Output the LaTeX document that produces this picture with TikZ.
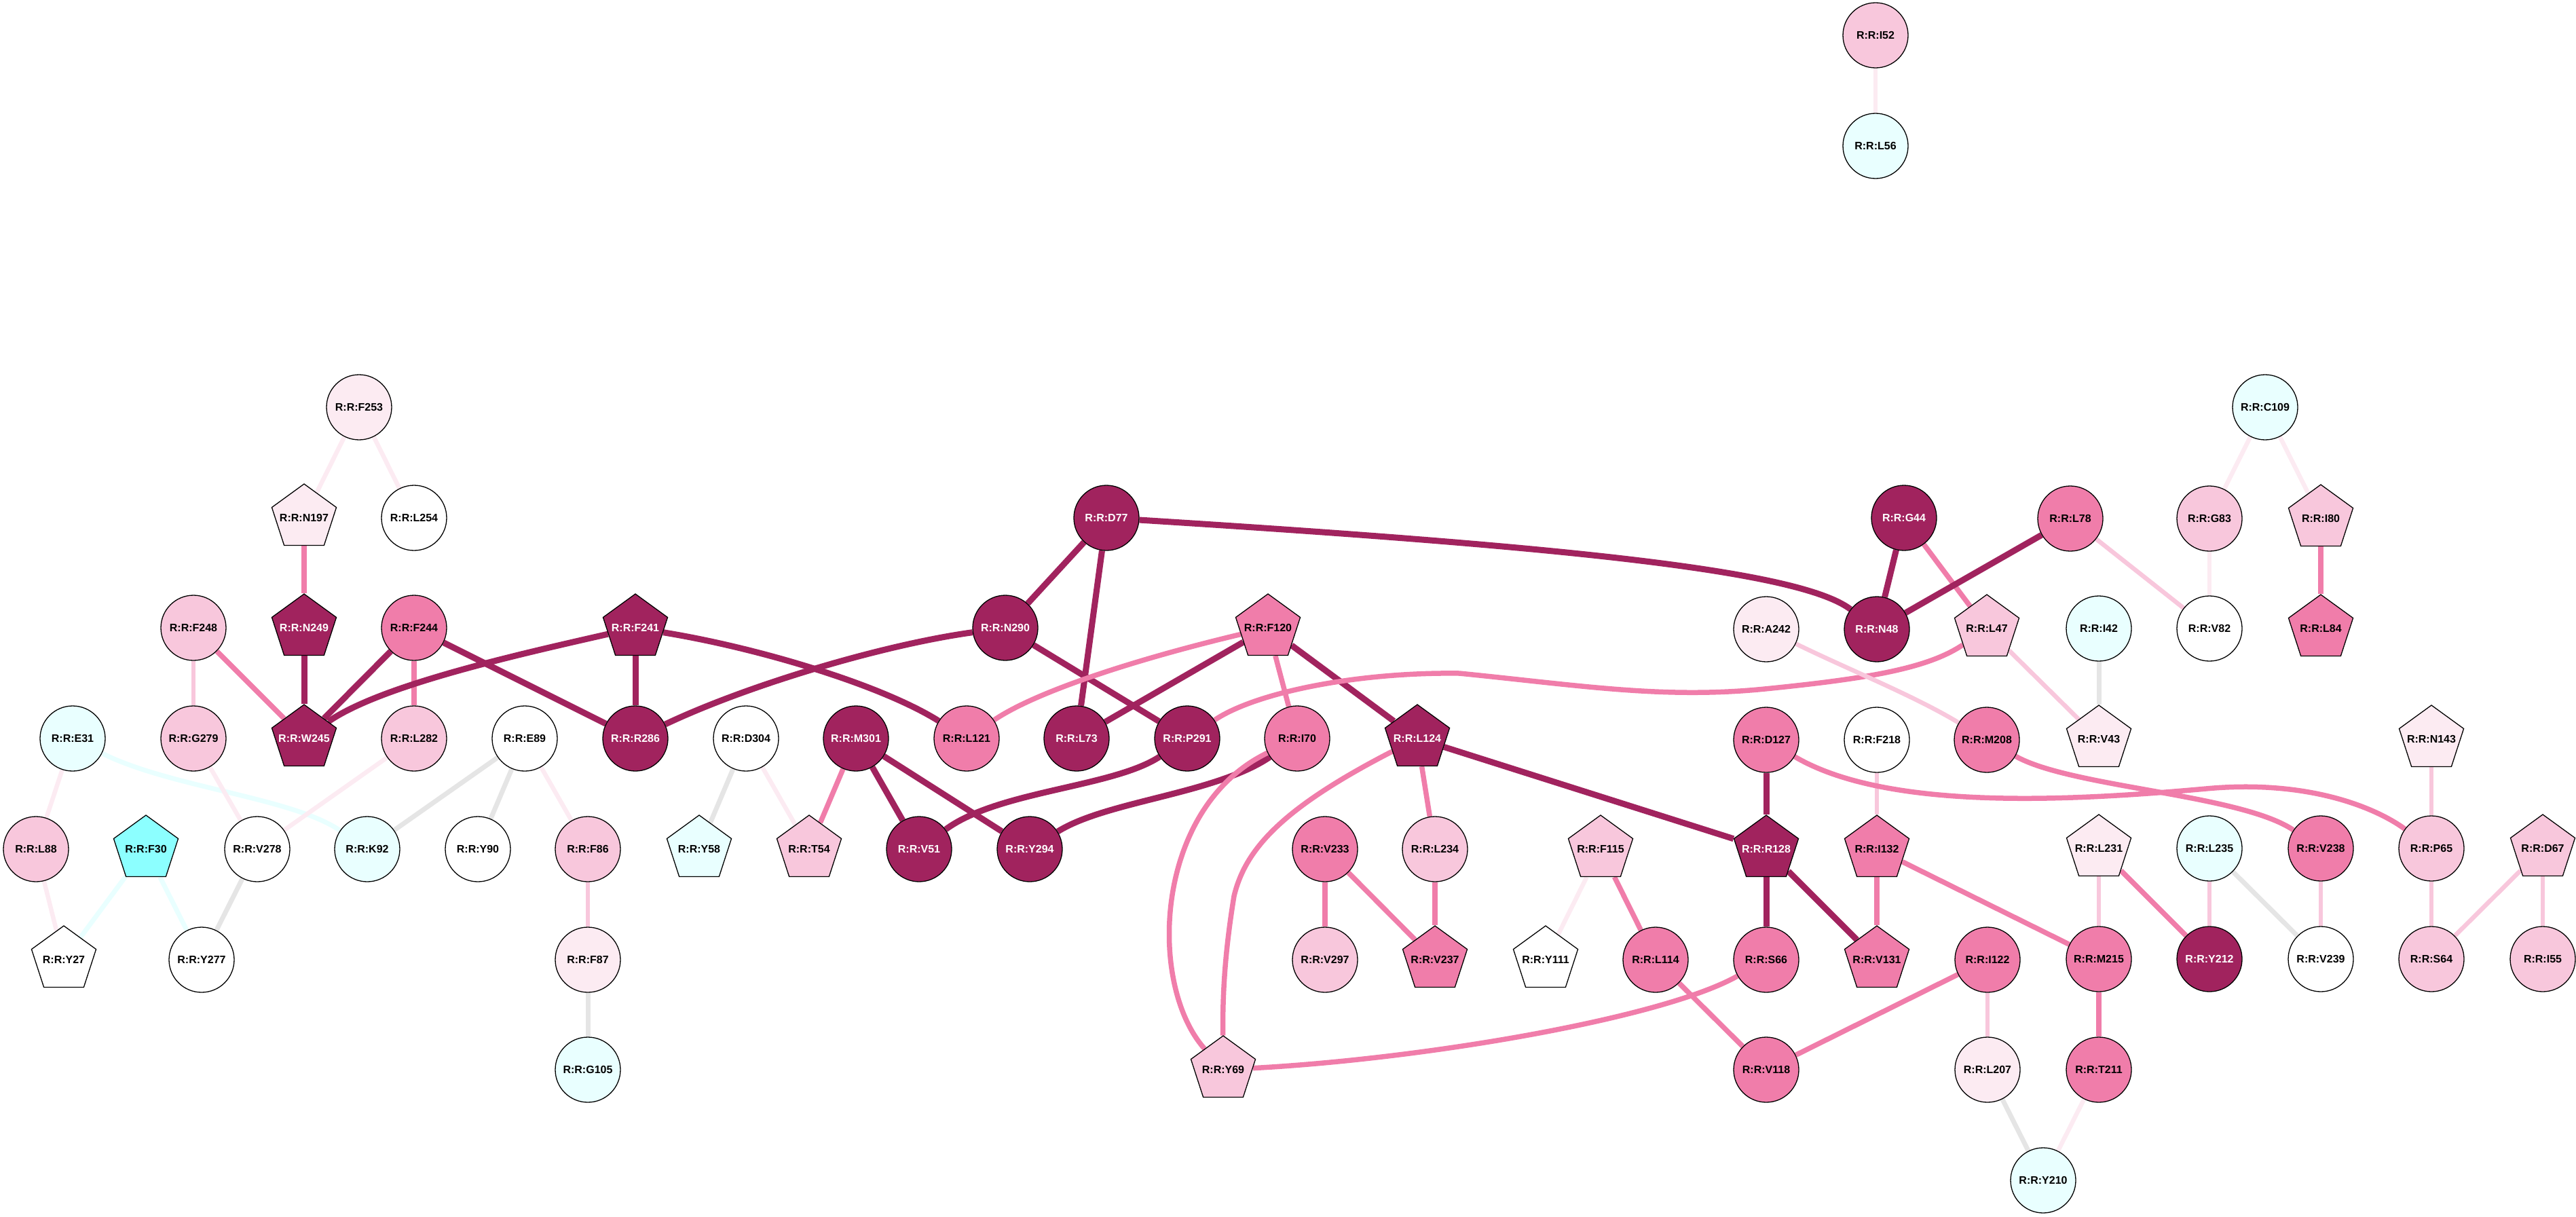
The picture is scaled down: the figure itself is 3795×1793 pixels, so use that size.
\documentclass[tikz,border=0pt]{standalone}
\usepackage{fontspec}
\setmainfont{Liberation Sans}
\usetikzlibrary{shapes.geometric,backgrounds}
\definecolor{cdark}{RGB}{161,35,94}
\definecolor{cmed}{RGB}{240,125,170}
\definecolor{clight}{RGB}{248,199,220}
\definecolor{cvlight}{RGB}{252,235,242}
\definecolor{ccyanl}{RGB}{233,255,255}
\definecolor{ccyan}{RGB}{140,255,255}
\definecolor{egrey}{RGB}{229,229,229}
\newcommand{\lab}{\bfseries\fontsize{16}{18}\selectfont}
\newcommand{\zb}[1]{\makebox[0pt]{#1}}
\tikzset{
  nd/.style={circle, draw=black, line width=1.3pt, minimum size=96pt, inner sep=0pt, font=\lab},
  pg/.style={regular polygon, regular polygon sides=5, draw=black, line width=1.3pt, minimum size=100pt, inner sep=0pt, font=\lab},
  cD/.style={fill=cdark, text=white},
  cM/.style={fill=cmed},
  cL/.style={fill=clight},
  cV/.style={fill=cvlight},
  cW/.style={fill=white},
  cC/.style={fill=ccyanl},
  cY/.style={fill=ccyan},
  eD/.style={draw=cdark, line width=9pt},
  eM/.style={draw=cmed, line width=7.5pt},
  eL/.style={draw=clight, line width=6.5pt},
  eV/.style={draw=cvlight, line width=6.5pt},
  eG/.style={draw=egrey, line width=7pt},
  eC/.style={draw=ccyanl, line width=7pt}
}
\begin{document}
\begin{tikzpicture}[x=1pt,y=-1pt]
\useasboundingbox (0,0) rectangle (3795,1793);
% row 52 / 215
\node[nd,cL] (I52) at (2763,52) {R:R:I52};
\node[nd,cC] (L56) at (2763,215) {R:R:L56};
% row 600
\node[nd,cV] (F253) at (529,600) {R:R:F253};
\node[nd,cC] (C109) at (3337,600) {R:R:C109};
% row 763
\node[pg,cV] (N197) at (448,763) {\zb{R:R:N197}};
\node[nd,cW] (L254) at (610,763) {R:R:L254};
\node[nd,cD] (D77) at (1630,763) {R:R:D77};
\node[nd,cD] (G44) at (2805,763) {R:R:G44};
\node[nd,cM] (L78) at (3050,764) {R:R:L78};
\node[nd,cL] (G83) at (3255,764) {R:R:G83};
\node[pg,cL] (I80) at (3419,764) {\zb{R:R:I80}};
% row 925
\node[nd,cL] (F248) at (285,925) {R:R:F248};
\node[pg,cD] (N249) at (448,925) {\zb{R:R:N249}};
\node[nd,cM] (F244) at (610,925) {R:R:F244};
\node[pg,cD] (F241) at (936,925) {\zb{R:R:F241}};
\node[nd,cD] (N290) at (1481,925) {R:R:N290};
\node[pg,cM] (F120) at (1868,925) {\zb{R:R:F120}};
\node[nd,cV] (A242) at (2602,927) {R:R:A242};
\node[nd,cD] (N48) at (2765,927) {R:R:N48};
\node[pg,cL] (L47) at (2927,926) {\zb{R:R:L47}};
\node[nd,cC] (I42) at (3092,926) {R:R:I42};
\node[nd,cW] (V82) at (3255,926) {R:R:V82};
\node[pg,cM] (L84) at (3419,926) {\zb{R:R:L84}};
% row 1088
\node[nd,cC] (E31) at (107,1088) {R:R:E31};
\node[nd,cL] (G279) at (285,1088) {R:R:G279};
\node[pg,cD] (W245) at (448,1088) {\zb{R:R:W245}};
\node[nd,cL] (L282) at (610,1088) {R:R:L282};
\node[nd,cW] (E89) at (773,1088) {R:R:E89};
\node[nd,cD] (R286) at (936,1088) {R:R:R286};
\node[nd,cW] (D304) at (1099,1088) {R:R:D304};
\node[nd,cD] (M301) at (1261,1088) {R:R:M301};
\node[nd,cM] (L121) at (1424,1088) {R:R:L121};
\node[nd,cD] (L73) at (1586,1088) {R:R:L73};
\node[nd,cD] (P291) at (1749,1088) {R:R:P291};
\node[nd,cM] (I70) at (1911,1088) {R:R:I70};
\node[pg,cD] (L124) at (2088,1088) {\zb{R:R:L124}};
\node[nd,cM] (D127) at (2602,1090) {R:R:D127};
\node[nd,cW] (F218) at (2765,1090) {R:R:F218};
\node[nd,cM] (M208) at (2927,1090) {R:R:M208};
\node[pg,cV] (V43) at (3092,1089) {\zb{R:R:V43}};
\node[pg,cV] (N143) at (3582,1089) {\zb{R:R:N143}};
% row 1251
\node[nd,cL] (L88) at (53,1251) {R:R:L88};
\node[pg,cY] (F30) at (215,1251) {\zb{R:R:F30}};
\node[nd,cW] (V278) at (379,1251) {R:R:V278};
\node[nd,cC] (K92) at (541,1251) {R:R:K92};
\node[nd,cW] (Y90) at (704,1251) {R:R:Y90};
\node[nd,cL] (F86) at (866,1251) {R:R:F86};
\node[pg,cC] (Y58) at (1030,1251) {\zb{R:R:Y58}};
\node[pg,cL] (T54) at (1192,1251) {\zb{R:R:T54}};
\node[nd,cD] (V51) at (1354,1251) {R:R:V51};
\node[nd,cD] (Y294) at (1517,1251) {R:R:Y294};
\node[nd,cM] (V233) at (1952,1251) {R:R:V233};
\node[nd,cL] (L234) at (2114,1251) {R:R:L234};
\node[pg,cL] (F115) at (2358,1251) {\zb{R:R:F115}};
\node[pg,cD] (R128) at (2602,1251) {\zb{R:R:R128}};
\node[pg,cM] (I132) at (2765,1251) {\zb{R:R:I132}};
\node[pg,cV] (L231) at (3092,1250) {\zb{R:R:L231}};
\node[nd,cC] (L235) at (3255,1250) {R:R:L235};
\node[nd,cM] (V238) at (3419,1250) {R:R:V238};
\node[nd,cL] (P65) at (3582,1250) {R:R:P65};
\node[pg,cL] (D67) at (3746,1250) {\zb{R:R:D67}};
% row 1414
\node[pg,cW] (Y27) at (94,1414) {\zb{R:R:Y27}};
\node[nd,cW] (Y277) at (297,1414) {R:R:Y277};
\node[nd,cV] (F87) at (866,1414) {R:R:F87};
\node[nd,cL] (V297) at (1952,1414) {R:R:V297};
\node[pg,cM] (V237) at (2114,1414) {\zb{R:R:V237}};
\node[pg,cW] (Y111) at (2277,1414) {\zb{R:R:Y111}};
\node[nd,cM] (L114) at (2439,1414) {R:R:L114};
\node[nd,cM] (S66) at (2602,1414) {R:R:S66};
\node[pg,cM] (V131) at (2765,1414) {\zb{R:R:V131}};
\node[nd,cM] (I122) at (2928,1414) {R:R:I122};
\node[nd,cM] (M215) at (3092,1413) {R:R:M215};
\node[nd,cD] (Y212) at (3255,1413) {R:R:Y212};
\node[nd,cW] (V239) at (3419,1413) {R:R:V239};
\node[nd,cL] (S64) at (3582,1413) {R:R:S64};
\node[nd,cL] (I55) at (3746,1413) {R:R:I55};
% row 1576
\node[nd,cC] (G105) at (866,1576) {R:R:G105};
\node[pg,cL] (Y69) at (1802,1576) {\zb{R:R:Y69}};
\node[nd,cM] (V118) at (2602,1576) {R:R:V118};
\node[nd,cV] (L207) at (2928,1576) {R:R:L207};
\node[nd,cM] (T211) at (3092,1576) {R:R:T211};
% row 1739
\node[nd,cC] (Y210) at (3010,1739) {R:R:Y210};

\begin{pgfonlayer}{background}
\draw[eV] (I52) -- (L56);
\draw[eV] (F253) -- (N197);
\draw[eV] (F253) -- (L254);
\draw[eM] (N197) -- (N249);
\draw[eL] (F248) -- (G279);
\draw[eM] (F248) -- (W245);
\draw[eD] (N249) -- (W245);
\draw[eD] (F244) -- (W245);
\draw[eM] (F244) -- (L282);
\draw[eD] (F244) -- (R286);
\draw[eD] (F241) .. controls (760,965) and (560,1010) .. (W245);
\draw[eD] (F241) -- (R286);
\draw[eD] (F241) .. controls (1120,955) and (1300,1010) .. (L121);
\draw[eV] (E31) -- (L88);
\draw[eC] (E31) .. controls (250,1160) and (430,1175) .. (K92);
\draw[eV] (G279) -- (V278);
\draw[eV] (L282) -- (V278);
\draw[eG] (E89) -- (K92);
\draw[eG] (E89) -- (Y90);
\draw[eV] (E89) -- (F86);
\draw[eV] (L88) -- (Y27);
\draw[eC] (F30) -- (Y27);
\draw[eC] (F30) -- (Y277);
\draw[eG] (V278) -- (Y277);
\draw[eL] (F86) -- (F87);
\draw[eG] (F87) -- (G105);
\draw[eG] (D304) -- (Y58);
\draw[eV] (D304) -- (T54);
\draw[eM] (M301) -- (T54);
\draw[eD] (M301) -- (V51);
\draw[eD] (M301) -- (Y294);
\draw[eD] (D77) -- (N290);
\draw[eD] (D77) -- (L73);
\draw[eD] (D77) .. controls (2300,805) and (2650,840) .. (N48);
\draw[eD] (N290) .. controls (1300,950) and (1100,1010) .. (R286);
\draw[eD] (N290) -- (P291);
\draw[eM] (F120) .. controls (1720,960) and (1540,1010) .. (L121);
\draw[eD] (F120) -- (L73);
\draw[eM] (F120) -- (I70);
\draw[eD] (F120) -- (L124);
\draw[eD] (P291) .. controls (1640,1160) and (1470,1165) .. (V51);
\draw[eD] (I70) .. controls (1790,1170) and (1630,1180) .. (Y294);
\draw[eM] (I70) .. controls (1700,1190) and (1690,1450) .. (Y69);
\draw[eM] (L124) .. controls (1890,1190) and (1835,1250) .. (1818,1320) .. controls (1805,1400) and (1801,1460) .. (Y69);
\draw[eM] (L124) -- (L234);
\draw[eD] (L124) -- (R128);
\draw[eM] (P291) .. controls (1850,1020) and (2000,990) .. (2150,992) .. controls (2330,1010) and (2450,1030) .. (2600,1015) .. controls (2750,1000) and (2840,985) .. (L47);
\draw[eM] (V233) -- (V297);
\draw[eM] (V233) -- (V237);
\draw[eM] (L234) -- (V237);
\draw[eV] (F115) -- (Y111);
\draw[eM] (F115) -- (L114);
\draw[eD] (R128) -- (S66);
\draw[eD] (R128) -- (V131);
\draw[eD] (D127) -- (R128);
\draw[eM] (I132) -- (V131);
\draw[eL] (F218) -- (I132);
\draw[eM] (I132) -- (M215);
\draw[eM] (L114) -- (V118);
\draw[eM] (S66) .. controls (2450,1500) and (2100,1560) .. (Y69);
\draw[eM] (I122) -- (V118);
\draw[eL] (I122) -- (L207);
\draw[eG] (L207) -- (Y210);
\draw[eV] (T211) -- (Y210);
\draw[eM] (M215) -- (T211);
\draw[eD] (G44) -- (N48);
\draw[eM] (G44) -- (L47);
\draw[eD] (L78) -- (N48);
\draw[eL] (L78) -- (V82);
\draw[eL] (A242) .. controls (2720,985) and (2820,1025) .. (M208);
\draw[eL] (L47) -- (V43);
\draw[eG] (I42) -- (V43);
\draw[eV] (C109) -- (G83);
\draw[eV] (C109) -- (I80);
\draw[eV] (G83) -- (V82);
\draw[eM] (I80) -- (L84);
\draw[eM] (D127) .. controls (2780,1195) and (3050,1180) .. (3250,1162) .. controls (3400,1148) and (3500,1190) .. (P65);
\draw[eM] (M208) .. controls (3050,1160) and (3300,1170) .. (V238);
\draw[eL] (N143) -- (P65);
\draw[eL] (L231) -- (M215);
\draw[eM] (L231) -- (Y212);
\draw[eL] (L235) -- (Y212);
\draw[eG] (L235) -- (V239);
\draw[eL] (V238) -- (V239);
\draw[eL] (P65) -- (S64);
\draw[eL] (D67) -- (S64);
\draw[eL] (D67) -- (I55);
\end{pgfonlayer}
\end{tikzpicture}
\end{document}
